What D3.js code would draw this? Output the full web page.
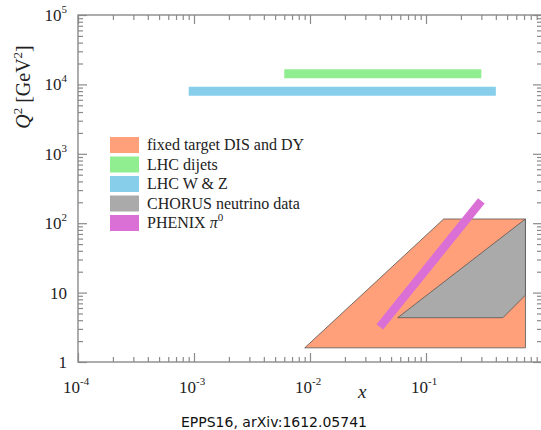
<!DOCTYPE html>
<html>
<head>
<meta charset="utf-8">
<script src="https://cdn.jsdelivr.net/npm/d3@7"></script>
<style>
  body { margin: 0; background: #fff; }
  svg { display: block; }
</style>
</head>
<body>
<div class="chart"></div>
<script>
// kinematic reach of the EPPS16 data sets
const fixedTargetX = [0.009, 0.142, 0.72, 0.72];
const fixedTargetQ2 = [1.6, 115, 115, 1.6];
const chorusX = [0.057, 0.46, 0.72, 0.72];
const chorusQ2 = [4.35, 4.35, 9.2, 115];
const phenixX = [0.04, 0.3];
const phenixQ2 = [3.2, 210];
const dijetX = [0.006, 0.3];
const dijetQ2 = [14200, 14200];
const wzX = [0.0009, 0.4];
const wzQ2 = [8000, 8000];

const xTickExp = [-4, -3, -2, -1];
const yTickLabels = [['1', ''], ['10', ''], ['10', '2'], ['10', '3'], ['10', '4'], ['10', '5']];
const legendNames = ['fixed target DIS and DY', 'LHC dijets', 'LHC W & Z', 'CHORUS neutrino data', 'PHENIX'];
const legendColors = ['#ffa07a', '#90ee90', '#87ceeb', '#aaaaaa', '#da70d6'];

let margin = { top: 15, right: -1, bottom: 68, left: 78 };
let W = 541, H = 430;
let width = W - margin.left - margin.right;
let height = H - margin.top - margin.bottom;

let svg = d3.select('.chart')
  .append('svg')
    .attr('width', W)
    .attr('height', H);
let g = svg.append('g')
    .attr('transform', 'translate(' + margin.left + ',' + margin.top + ')');

let x = d3.scaleLog().domain([1e-4, 1]).range([0, width]);
let y = d3.scaleLog().domain([1, 1e5]).range([height, 0]);

// shaded regions
let poly = (xs, ys) => xs.map((v, i) => [x(v), y(ys[i])]);
let line = d3.line();

g.append('path')
  .attr('d', line(poly(fixedTargetX, fixedTargetQ2)) + 'Z')
  .attr('fill', legendColors[0])
  .attr('stroke', '#555')
  .attr('stroke-width', 0.8);

g.append('path')
  .attr('d', line(poly(chorusX, chorusQ2)) + 'Z')
  .attr('fill', legendColors[3])
  .attr('stroke', '#555')
  .attr('stroke-width', 0.8);

g.append('path')
  .attr('d', line(poly(phenixX, phenixQ2)))
  .attr('stroke', legendColors[4])
  .attr('stroke-width', 8.5)
  .attr('fill', 'none');

g.append('path')
  .attr('d', line(poly(dijetX, dijetQ2)))
  .attr('stroke', legendColors[1])
  .attr('stroke-width', 9)
  .attr('fill', 'none');

g.append('path')
  .attr('d', line(poly(wzX, wzQ2)))
  .attr('stroke', legendColors[2])
  .attr('stroke-width', 9)
  .attr('fill', 'none');

// axes, ticks pointing inwards
let xt = x.ticks();
let yt = y.ticks();
let isMajor = v => Math.abs(Math.log10(v) - Math.round(Math.log10(v))) < 1e-6;

function styleAxis(sel, horiz, sign) {
  sel.select('.domain').remove();
  sel.selectAll('.tick line')
    .attr('stroke', '#8a8a8a')
    .attr('stroke-width', 1.2)
    .each(function (d) {
      let len = isMajor(d) ? 9 : 5;
      d3.select(this).attr(horiz ? 'y2' : 'x2', sign * len);
    });
  sel.selectAll('.tick text').remove();
}

g.append('g').attr('transform', `translate(0,${height})`)
  .call(d3.axisBottom(x).tickValues(xt).tickFormat(''))
  .call(s => styleAxis(s, true, -1));
g.append('g')
  .call(d3.axisTop(x).tickValues(xt).tickFormat(''))
  .call(s => styleAxis(s, true, 1));
g.append('g')
  .call(d3.axisLeft(y).tickValues(yt).tickFormat(''))
  .call(s => styleAxis(s, false, 1));
g.append('g').attr('transform', `translate(${width},0)`)
  .call(d3.axisRight(y).tickValues(yt).tickFormat(''))
  .call(s => styleAxis(s, false, -1));

g.append('rect')
  .attr('width', width)
  .attr('height', height)
  .attr('fill', 'none')
  .attr('stroke', '#8a8a8a')
  .attr('stroke-width', 1.4);

// tick labels
let serif = '"Liberation Serif", "Times New Roman", serif';

let xl = g.append('g').attr('font-family', serif).attr('fill', '#222');
xTickExp.forEach(e => {
  let t = xl.append('text')
    .attr('x', x(Math.pow(10, e)) - 15)
    .attr('y', height + 31)
    .attr('font-size', 17);
  t.append('tspan').text('10');
  t.append('tspan').attr('dy', -8).attr('font-size', 11).text(String(e));
});

let yl = g.append('g').attr('font-family', serif).attr('fill', '#222');
yTickLabels.forEach((lab, i) => {
  let t = yl.append('text')
    .attr('x', -11)
    .attr('y', y(Math.pow(10, i)) + 6)
    .attr('text-anchor', 'end')
    .attr('font-size', 17);
  t.append('tspan').text(lab[0]);
  if (lab[1]) t.append('tspan').attr('dy', -8).attr('font-size', 11).text(lab[1]);
});

// axis titles
g.append('text')
  .attr('x', 280)
  .attr('y', height + 36)
  .attr('font-family', serif)
  .attr('font-style', 'italic')
  .attr('font-size', 19)
  .attr('fill', '#222')
  .text('x');

let yTitle = svg.append('text')
  .attr('transform', 'translate(30,87) rotate(-90)')
  .attr('text-anchor', 'middle')
  .attr('font-family', serif)
  .attr('font-size', 20)
  .attr('fill', '#222');
yTitle.append('tspan').attr('font-style', 'italic').text('Q');
yTitle.append('tspan').attr('dy', -8).attr('font-size', 13).text('2');
yTitle.append('tspan').attr('dy', 8).text(' [GeV');
yTitle.append('tspan').attr('dy', -8).attr('font-size', 13).text('2');
yTitle.append('tspan').attr('dy', 8).text(']');

// legend
let legend = svg.append('g').attr('transform', 'translate(110,137)');
legendNames.forEach((name, i) => {
  let row = legend.append('g').attr('transform', `translate(0,${i * 19.5})`);
  row.append('rect')
    .attr('width', 29)
    .attr('height', 16)
    .attr('fill', legendColors[i]);
  let t = row.append('text')
    .attr('x', 37)
    .attr('y', 13)
    .attr('font-family', serif)
    .attr('font-size', 16)
    .attr('fill', '#222')
    .text(name);
  if (name === 'PHENIX') {
    t.append('tspan').attr('font-style', 'italic').text(' \u03c0');
    t.append('tspan').attr('dy', -7).attr('font-size', 11).text('0');
  }
});

// caption
svg.append('text')
  .attr('x', 274)
  .attr('y', 427)
  .attr('text-anchor', 'middle')
  .attr('font-family', '"DejaVu Sans", sans-serif')
  .attr('font-size', 14)
  .attr('fill', '#111')
  .text('EPPS16, arXiv:1612.05741');
</script>
</body>
</html>
